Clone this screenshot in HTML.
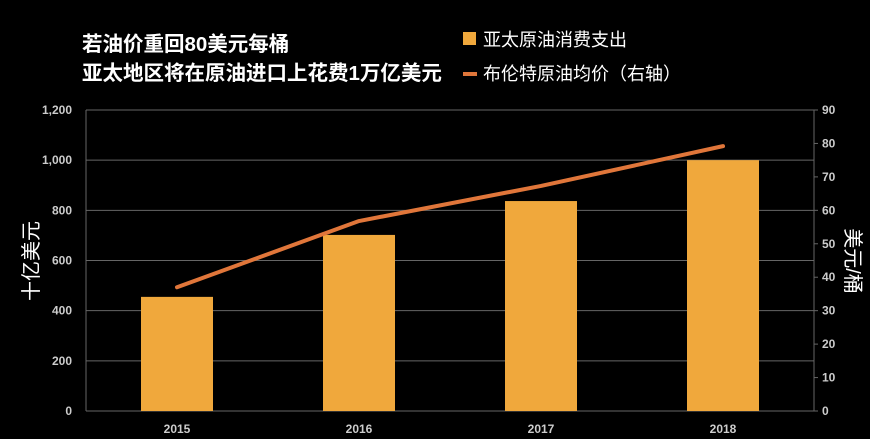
<!DOCTYPE html>
<html><head><meta charset="utf-8">
<style>
html,body{margin:0;padding:0;background:#000;}
svg{display:block;font-family:"Liberation Sans","Noto Sans CJK SC",sans-serif;}
</style></head>
<body>
<svg id="chart" width="870" height="439" viewBox="0 0 870 439">
<text x="82" y="51" fill="#fff" font-size="20.5" font-weight="bold">若油价重回80美元每桶</text>
<text x="82" y="80" fill="#fff" font-size="20.5" font-weight="bold">亚太地区将在原油进口上花费1万亿美元</text>
<rect x="463" y="32" width="13" height="13" fill="#f0a83c"/>
<text x="483" y="46" fill="#fff" font-size="18">亚太原油消费支出</text>
<line x1="463" y1="74" x2="477" y2="74" stroke="#e0763a" stroke-width="4"/>
<text x="483" y="80" fill="#fff" font-size="18">布伦特原油均价（右轴）</text>
<text transform="translate(38,261) rotate(-90)" text-anchor="middle" fill="#fff" font-size="20">十亿美元</text>
<text transform="translate(846,261) rotate(90)" text-anchor="middle" fill="#fff" font-size="20">美元/桶</text>
<g id="grid"></g><g id="bars"></g><g id="line"></g><g id="axes"></g>
</svg>
<script>
const categories=["2015","2016","2017","2018"];
const spending=[455,702,837,1000];
const brent=[37,56.8,67.3,79.2];
const leftTicks=[0,200,400,600,800,1000,1200];
const rightTicks=[0,10,20,30,40,50,60,70,80,90];
const NS="http://www.w3.org/2000/svg";
const L=86,R=814,T=110,B=411;
const yL=v=>B-(v/1200)*(B-T);
const yR=v=>B-(v/90)*(B-T);
const bw=(R-L)/categories.length;
const xC=i=>L+bw*(i+0.5);
function mk(tag,attrs,parent){const e=document.createElementNS(NS,tag);for(const k in attrs)e.setAttribute(k,attrs[k]);document.getElementById(parent).appendChild(e);return e;}
leftTicks.forEach(t=>{
  const g=mk("line",{x1:L,x2:R,y1:yL(t),y2:yL(t),stroke:"#666","stroke-width":1},"grid");
  
  
  const tx=mk("text",{x:L-14,y:yL(t)+4,"text-anchor":"end",fill:"#ccc","font-size":12,"font-weight":"bold"},"axes");
  tx.textContent=t.toLocaleString("en-US");
  
  
});
const ax=mk("line",{x1:L,x2:L,y1:T,y2:B,stroke:"#666"},"axes");


const ax2=mk("line",{x1:R,x2:R,y1:T,y2:B,stroke:"#666"},"axes");


rightTicks.forEach(t=>{
  const tk=mk("line",{x1:R,x2:R+4,y1:yR(t),y2:yR(t),stroke:"#666"},"axes");
  
  
  const tx=mk("text",{x:R+8,y:yR(t)+4,fill:"#ccc","font-size":12,"font-weight":"bold"},"axes");
  tx.textContent=t;
  
  
});
categories.forEach((c,i)=>{
  const r=mk("rect",{x:xC(i)-36,y:yL(spending[i]),width:72,height:B-yL(spending[i]),fill:"#f0a83c"},"bars");
  
  
  const tx=mk("text",{x:xC(i),y:B+22,"text-anchor":"middle",fill:"#ccc","font-size":12,"font-weight":"bold"},"axes");
  tx.textContent=c;
  
  
});
const pts=brent.map((v,i)=>xC(i)+","+yR(v)).join(" ");
const pl=mk("polyline",{points:pts,fill:"none",stroke:"#e0763a","stroke-width":4,"stroke-linecap":"round","stroke-linejoin":"round"},"line");


</script>
</body></html>
